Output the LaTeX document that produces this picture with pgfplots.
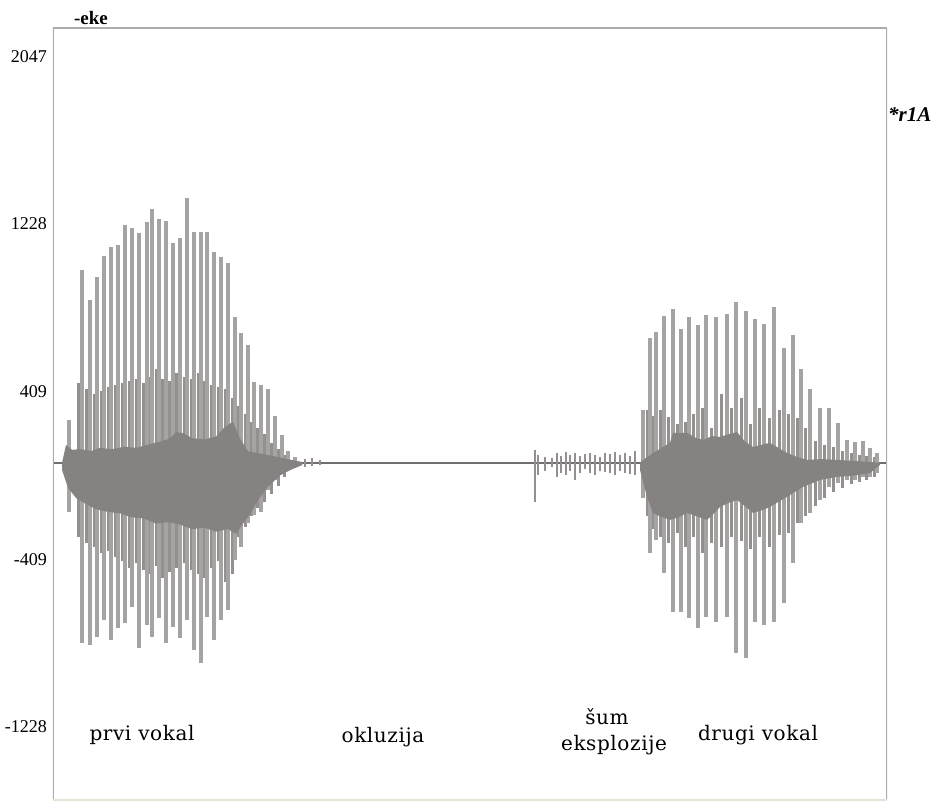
\documentclass[border=0pt]{standalone}
\usepackage{pgfplots}
\pgfplotsset{compat=1.18}
\usepackage{fontspec}
\setmainfont{Liberation Serif}
\newfontfamily\lblfont[LetterSpace=3]{DejaVu Serif}
\definecolor{spk}{RGB}{166,163,163}
\definecolor{med}{RGB}{148,144,144}
\definecolor{core}{RGB}{134,130,130}
\definecolor{framec}{RGB}{172,172,172}
\begin{document}
\begin{tikzpicture}[x=1pt,y=1pt]
\path (0,0) rectangle (945,807);
\begin{axis}[at={(53pt,7pt)}, anchor=south west, scale only axis,
  width=834pt, height=772pt,
  xmin=53, xmax=887, ymin=-1585, ymax=2185,
  axis line style={draw=none},
  xtick=\empty,
  ytick={-1228,-409,409,1228,2047},
  yticklabels={-1228,-409,409,1228,2047},
  major tick length=0pt,
  yticklabel style={font=\fontsize{18}{18}\selectfont, anchor=east, inner sep=0pt, xshift=-6pt},
  unbounded coords=jump]
% baseline
\addplot[core!85!black, line width=2.8pt] coordinates {(53,61) (887,61)};
% medium spikes, first vowel
\addplot[med, line width=3pt] coordinates {
(78,450) (78,-300) (78,nan) (86,420) (86,-330) (86,nan) (94,400) (94,-350) (94,nan)
(101,410) (101,-380) (101,nan) (108,430) (108,-370) (108,nan) (115,440) (115,-400) (115,nan)
(122,450) (122,-420) (122,nan) (129,460) (129,-450) (129,nan) (136,470) (136,-430) (136,nan)
(143,450) (143,-460) (143,nan) (150,480) (150,-480) (150,nan) (156,520) (156,-440) (156,nan)
(162,470) (162,-500) (162,nan) (169,460) (169,-470) (169,nan) (176,500) (176,-450) (176,nan)
(184,480) (184,-430) (184,nan) (191,470) (191,-460) (191,nan) (198,500) (198,-480) (198,nan)
(204,460) (204,-500) (204,nan) (211,440) (211,-450) (211,nan) (218,430) (218,-420) (218,nan)
(225,420) (225,-520) (225,nan) (232,380) (232,-480) (232,nan) (238,340) (238,-300) (238,nan)
(245,300) (245,-250) (245,nan) (251,260) (251,-200) (251,nan) (257,230) (257,-160) (257,nan)
(264,200) (264,-130) (264,nan) (271,160) (271,-90) (271,nan) (278,130) (278,-50) (278,nan)
(284,100) (284,-10) (284,nan)
};
% medium spikes, second vowel
\addplot[med, line width=3pt] coordinates {
(647,320) (647,-200) (647,nan) (653,290) (653,-260) (653,nan) (660,320) (660,-300) (660,nan)
(668,286) (668,-330) (668,nan) (677,250) (677,-280) (677,nan) (685,260) (685,-350) (685,nan)
(693,300) (693,-300) (693,nan) (702,330) (702,-380) (702,nan) (711,230) (711,-330) (711,nan)
(721,400) (721,-350) (721,nan) (731,330) (731,-300) (731,nan) (741,380) (741,-320) (741,nan)
(750,250) (750,-360) (750,nan) (759,330) (759,-300) (759,nan) (769,280) (769,-350) (769,nan)
(779,320) (779,-290) (779,nan) (788,300) (788,-280) (788,nan) (797,280) (797,-230) (797,nan)
(805,230) (805,-200) (805,nan) (815,170) (815,-150) (815,nan) (824,150) (824,-110) (824,nan)
(833,140) (833,-80) (833,nan) (842,120) (842,-60) (842,nan) (851,110) (851,-40) (851,nan)
(859,100) (859,-30) (859,nan) (866,95) (866,-20) (866,nan) (874,90) (874,-10) (874,nan)
};
% tall spikes, first vowel
\addplot[spk, line width=3.6pt] coordinates {
(69,271) (69,-178) (69,nan) (82,1003) (82,-818) (82,nan) (90,857) (90,-828) (90,nan)
(97,969) (97,-789) (97,nan) (104,1072) (104,-706) (104,nan) (111,1116) (111,-803) (111,nan)
(118,1126) (118,-745) (118,nan) (125,1223) (125,-720) (125,nan) (132,1209) (132,-642) (132,nan)
(139,1184) (139,-842) (139,nan) (147,1238) (147,-730) (147,nan) (152,1301) (152,-789) (152,nan)
(159,1252) (159,-696) (159,nan) (166,1243) (166,-818) (166,nan) (173,1135) (173,-740) (173,nan)
(180,1160) (180,-794) (180,nan) (187,1355) (187,-706) (187,nan) (194,1189) (194,-852) (194,nan)
(201,1189) (201,-916) (201,nan) (207,1189) (207,-691) (207,nan) (214,1091) (214,-803) (214,nan)
(221,1067) (221,-706) (221,nan) (228,1038) (228,-657) (228,nan) (235,774) (235,-413) (235,nan)
(241,696) (241,-349) (241,nan) (248,637) (248,-232) (248,nan) (254,457) (254,-193) (254,nan)
(261,442) (261,-178) (261,nan) (268,422) (268,-71) (268,nan) (275,291) (275,-22) (275,nan)
(282,198) (282,12) (282,nan) (288,120) (288,30) (288,nan) (295,90) (295,40) (295,nan)
};
% tall spikes, second vowel
\addplot[spk, line width=3.6pt] coordinates {
(643,320) (643,-110) (643,nan) (650,671) (650,-378) (650,nan) (656,701) (656,-315) (656,nan)
(664,779) (664,-476) (664,nan) (673,813) (673,-667) (673,nan) (681,715) (681,-667) (681,nan)
(689,774) (689,-696) (689,nan) (698,735) (698,-745) (698,nan) (706,784) (706,-691) (706,nan)
(716,774) (716,-715) (716,nan) (727,789) (727,-691) (727,nan) (736,847) (736,-867) (736,nan)
(746,803) (746,-891) (746,nan) (755,764) (755,-715) (755,nan) (764,740) (764,-730) (764,nan)
(774,823) (774,-715) (774,nan) (784,623) (784,-623) (784,nan) (793,686) (793,-427) (793,nan)
(801,520) (801,-232) (801,nan) (810,422) (810,-183) (810,nan) (820,330) (820,-120) (820,nan)
(829,330) (829,-56) (829,nan) (838,256) (838,-37) (838,nan) (847,173) (847,-22) (847,nan)
(855,164) (855,-22) (855,nan) (863,168) (863,-7) (863,nan) (870,134) (870,-7) (870,nan)
(877,110) (877,12) (877,nan)
};
% burst and frication noise
\addplot[med, line width=2.6pt] coordinates {
(535,125) (535,-130) (535,nan) (538,100) (538,0) (538,nan) (545,90) (545,20) (545,nan)
(552,85) (552,40) (552,nan) (557,110) (557,-10) (557,nan) (561,95) (561,10) (561,nan)
(566,115) (566,0) (566,nan) (570,100) (570,20) (570,nan) (575,110) (575,-20) (575,nan)
(580,95) (580,10) (580,nan) (585,105) (585,30) (585,nan) (590,110) (590,10) (590,nan)
(595,100) (595,0) (595,nan) (600,90) (600,20) (600,nan) (605,110) (605,15) (605,nan)
(610,105) (610,10) (610,nan) (615,115) (615,0) (615,nan) (620,100) (620,20) (620,nan)
(625,110) (625,10) (625,nan) (630,95) (630,5) (630,nan) (635,120) (635,0) (635,nan)
(305,80) (305,40) (305,nan) (312,85) (312,45) (312,nan) (320,75) (320,50) (320,nan)
};
% dense core, first vowel
\addplot[fill=core, draw=none] coordinates {
(62,61) (66,149) (72,125) (80,128) (92,120) (100,135) (112,128) (124,140) (136,135)
(148,150) (160,165) (170,180) (176,212) (184,205) (192,182) (205,176) (216,190)
(225,238) (233,262) (240,180) (248,118) (262,105) (278,90) (292,75) (302,66)
(302,50) (292,30) (280,0) (268,-55) (258,-120) (250,-190) (243,-235) (236,-285)
(228,-262) (216,-275) (204,-255) (192,-262) (180,-240) (168,-228) (156,-235)
(144,-210) (132,-205) (120,-185) (108,-178) (96,-165) (86,-140) (76,-110)
(68,-60) (62,27)
} -- cycle;
% dense core, second vowel
\addplot[fill=core, draw=none] coordinates {
(640,61) (647,90) (660,130) (670,159) (673,208) (687,208) (695,185) (703,173) (712,192)
(720,188) (728,200) (737,212) (745,165) (753,139) (762,150) (770,159) (780,130)
(787,110) (797,90) (807,76) (822,80) (837,76) (855,70) (870,66) (880,61)
(880,51) (870,12) (855,0) (837,-7) (820,-22) (803,-56) (795,-80) (787,-105) (778,-130)
(770,-154) (762,-170) (753,-183) (745,-150) (737,-120) (728,-135) (720,-154)
(713,-190) (707,-217) (697,-200) (687,-183) (678,-205) (670,-217) (660,-200)
(653,-183) (647,-105) (640,27)
} -- cycle;
\draw[framec, line width=2.5pt] (rel axis cs:0,0) -- (rel axis cs:0,1) -- (rel axis cs:1,1) -- (rel axis cs:1,0);
\draw[color={rgb,255:red,228;green,228;blue,212}, line width=1.2pt] (rel axis cs:0,0) -- (rel axis cs:1,0);
\end{axis}
\node[font=\bfseries\fontsize{19}{19}\selectfont] at (91,789) {-eke};
\node[anchor=west, inner sep=0pt, font=\bfseries\itshape\fontsize{21}{21}\selectfont] at (888,692) {*r1A};
\node[font=\lblfont\fontsize{20}{22}\selectfont] at (142,72) {prvi vokal};
\node[font=\lblfont\fontsize{20}{22}\selectfont] at (383,70) {okluzija};
\node[font=\lblfont\fontsize{20}{22}\selectfont] at (607,90) {šum};
\node[font=\lblfont\fontsize{20}{22}\selectfont] at (614,62) {eksplozije};
\node[font=\lblfont\fontsize{20}{22}\selectfont] at (758,72) {drugi vokal};
\end{tikzpicture}
\end{document}
